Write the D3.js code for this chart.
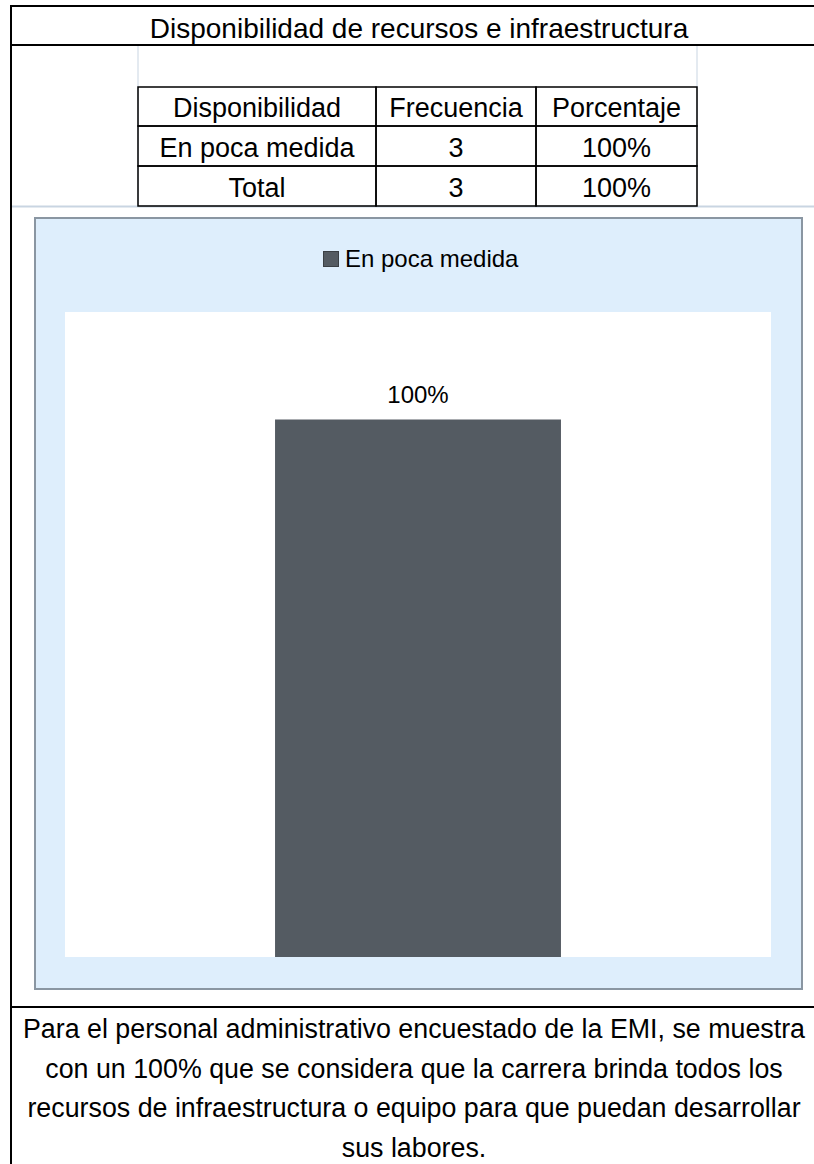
<!DOCTYPE html>
<html>
<head>
<meta charset="utf-8">
<script src="https://cdn.jsdelivr.net/npm/d3@7"></script>
<style>
  body { margin: 0; background: #fff; }
  text { font-family: "Liberation Sans", Arial, sans-serif; fill: #000; }
</style>
</head>
<body>
<div id="chart-area"></div>
<script>
// data
const title = "Disponibilidad de recursos e infraestructura";
const headers = ["Disponibilidad", "Frecuencia", "Porcentaje"];
const categories = ["En poca medida"];
const frecuencia = [3];
const porcentaje = [1.0];
const totalLabel = "Total";
const note = [
    "Para el personal administrativo encuestado de la EMI, se muestra",
    "con un 100% que se considera que la carrera brinda todos los",
    "recursos de infraestructura o equipo para que puedan desarrollar",
    "sus labores."
];

const W = 814, H = 1164;
const fmt = d3.format(".0%");

let svg = d3.select("#chart-area").append("svg")
    .attr("width", W)
    .attr("height", H);

// sheet grid lines (light)
const grid = "#c9d5e2";
svg.append("line").attr("x1", 138).attr("x2", 138).attr("y1", 45).attr("y2", 206).attr("stroke", grid);
svg.append("line").attr("x1", 697).attr("x2", 697).attr("y1", 45).attr("y2", 206).attr("stroke", grid);
svg.append("line").attr("x1", 11).attr("x2", W).attr("y1", 206.5).attr("y2", 206.5).attr("stroke", grid).attr("stroke-width", 2);

// outer frame
svg.append("line").attr("x1", 11).attr("x2", 11).attr("y1", 6).attr("y2", H).attr("stroke", "#000").attr("stroke-width", 2);
svg.append("line").attr("x1", 10).attr("x2", W).attr("y1", 6).attr("y2", 6).attr("stroke", "#000").attr("stroke-width", 2);
svg.append("line").attr("x1", 10).attr("x2", W).attr("y1", 45).attr("y2", 45).attr("stroke", "#000").attr("stroke-width", 2);
svg.append("line").attr("x1", 10).attr("x2", W).attr("y1", 1007).attr("y2", 1007).attr("stroke", "#000").attr("stroke-width", 2);

svg.append("text")
    .attr("x", 419).attr("y", 38)
    .attr("text-anchor", "middle")
    .attr("font-size", 28)
    .text(title);

// table
const rows = [headers]
    .concat(categories.map((c, i) => [c, frecuencia[i], fmt(porcentaje[i])]))
    .concat([[totalLabel, d3.sum(frecuencia), fmt(d3.sum(porcentaje))]]);

const colX = [138, 376, 536, 697];
const rowY = [87, 126, 166, 206];

const table = svg.append("g");
rows.forEach(function (r, i) {
    r.forEach(function (v, j) {
        table.append("rect")
            .attr("x", colX[j]).attr("y", rowY[i])
            .attr("width", colX[j + 1] - colX[j])
            .attr("height", rowY[i + 1] - rowY[i])
            .attr("fill", "none")
            .attr("stroke", "#000")
            .attr("stroke-width", 1.5);
        table.append("text")
            .attr("x", (colX[j] + colX[j + 1]) / 2)
            .attr("y", rowY[i + 1] - 9)
            .attr("text-anchor", "middle")
            .attr("font-size", 27)
            .text(v);
    });
});

// chart area
svg.append("rect")
    .attr("x", 35).attr("y", 218)
    .attr("width", 767).attr("height", 771)
    .attr("fill", "#deeefc")
    .attr("stroke", "#8a96a2")
    .attr("stroke-width", 2);

const plot = { left: 65, right: 771, top: 312, bottom: 957 };
svg.append("rect")
    .attr("x", plot.left).attr("y", plot.top)
    .attr("width", plot.right - plot.left)
    .attr("height", plot.bottom - plot.top)
    .attr("fill", "#fff");

const x = d3.scaleBand()
    .domain(categories)
    .range([plot.left, plot.right])
    .padding(0.4235);

const y = d3.scaleLinear()
    .domain([0, 1.2])
    .range([plot.bottom, plot.top]);

const barColor = "#545b62";

svg.selectAll(".bar")
    .data(categories)
    .enter()
    .append("rect")
    .attr("class", "bar")
    .attr("x", d => x(d))
    .attr("y", (d, i) => y(porcentaje[i]))
    .attr("width", x.bandwidth())
    .attr("height", (d, i) => y(0) - y(porcentaje[i]))
    .attr("fill", barColor);

svg.selectAll(".lbl")
    .data(categories)
    .enter()
    .append("text")
    .attr("class", "lbl")
    .attr("x", d => x(d) + x.bandwidth() / 2)
    .attr("y", (d, i) => y(porcentaje[i]) - 17)
    .attr("text-anchor", "middle")
    .attr("font-size", 24)
    .attr("fill", "#222")
    .text((d, i) => fmt(porcentaje[i]));

// legend
const legend = svg.append("g");
legend.append("rect")
    .attr("x", 323.5).attr("y", 251.5)
    .attr("width", 15).attr("height", 15)
    .attr("fill", barColor)
    .attr("stroke", "#3a3f44");
legend.append("text")
    .attr("x", 345).attr("y", 267)
    .attr("font-size", 24)
    .attr("fill", "#222")
    .text(categories[0]);

// note (slightly smaller than the sheet so the long lines stay inside)
svg.append("g").selectAll("text")
    .data(note)
    .enter()
    .append("text")
    .attr("x", 414)
    .attr("y", (d, i) => 1038 + i * 39.5)
    .attr("text-anchor", "middle")
    .attr("font-size", 26.8)
    .text(d => d);
</script>
</body>
</html>
